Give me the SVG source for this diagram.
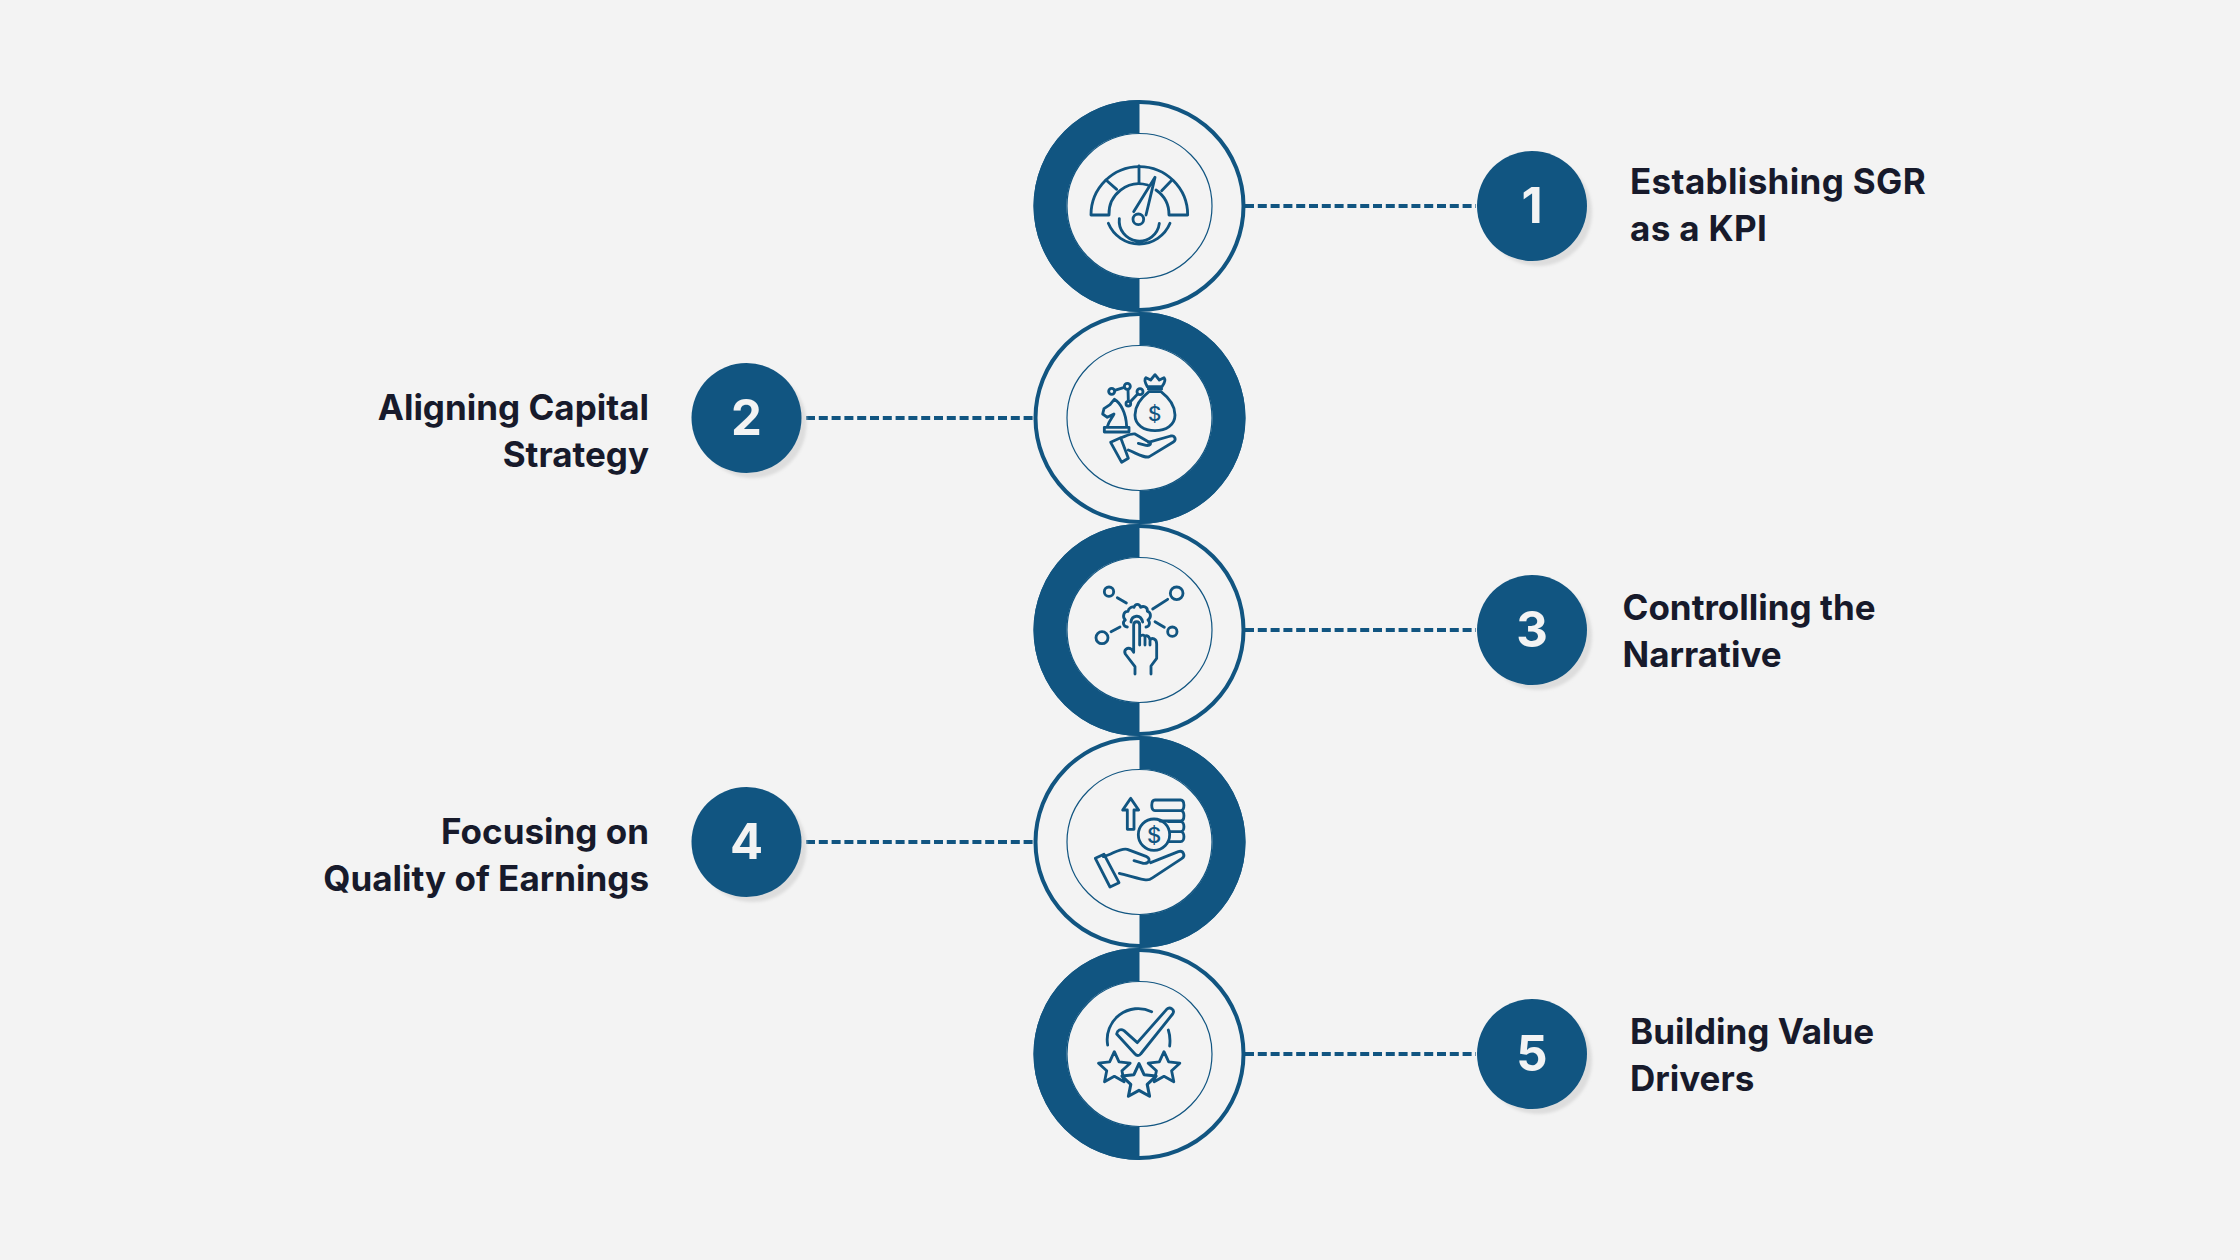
<svg xmlns="http://www.w3.org/2000/svg" width="2240" height="1260" viewBox="0 0 2240 1260">
<style>
.bg{fill:#f3f3f3}
.ring{fill:#f3f3f3;stroke:#115581;stroke-width:4}
.half{fill:#115581}
.thin{fill:#f3f3f3;stroke:#115581;stroke-width:1.200}
.badge{fill:#115581}
.shadow{fill:#dddddd}
.num{font-family:"Inter","Liberation Sans",sans-serif;font-weight:700;font-size:49px;fill:#f3f3f3;text-anchor:middle}
.lab{font-family:"Inter","Liberation Sans",sans-serif;font-weight:700;font-size:35px;fill:#171a2b}
.end{text-anchor:end}
.dash{stroke:#115581;stroke-width:4;stroke-dasharray:9 3.800;fill:none}
.ic{fill:none;stroke:#115581;stroke-width:8.500;stroke-linecap:round;stroke-linejoin:round}
.icf{fill:#f3f3f3;stroke:#115581;stroke-width:8.500;stroke-linecap:round;stroke-linejoin:round}
.icd{font-family:"Inter","Liberation Sans",sans-serif;font-weight:500;fill:#115581;text-anchor:middle}
</style>
<defs>
<filter id="blur" x="-20%" y="-20%" width="140%" height="140%"><feGaussianBlur stdDeviation="1.500"/></filter>
<path id="star" d="M0-50 14.100-19.400 47.500-15.500 22.800 7.400 29.400 40.500 0 24-29.400 40.500-22.800 7.400-47.500-15.500-14.100-19.400Z"/>
</defs>
<rect class="bg" width="2240" height="1260"/>
<g id="connectors">
<path class="dash" d="M1245 206H1476"/>
<path class="dash" d="M806 418H1033"/>
<path class="dash" d="M1245 630H1476"/>
<path class="dash" d="M806 842H1033"/>
<path class="dash" d="M1245 1054H1476"/>
</g>
<g id="node-1">
<circle class="ring" cx="1139.500" cy="206" r="104"/>
<circle class="thin" cx="1139.500" cy="206" r="72.500"/>
<path class="half" d="M1139.500 100A106 106 0 0 0 1139.500 312V279A73 73 0 0 1 1139.500 133Z"/>
<g transform="translate(1020 90) scale(.33333)" class="ic">
<path d="M383 285A90 90 0 0 0 267 375H213A145 145 0 0 1 503 375H447A90 90 0 0 0 408 300"/>
<path d="M357 228V278M258 270 290 298M425 302 456 270"/>
<path d="M405 262 341 365M405 262 378 375"/>
<circle cx="355" cy="388" r="16"/>
<path d="M298 386A60 60 0 0 0 418 400M265 400A100 100 0 0 0 450 400"/>
</g>
<circle class="shadow" cx="1538" cy="212" r="54" filter="url(#blur)"/>
<circle class="badge" cx="1532" cy="206" r="55"/>
<text class="num" x="1532" y="223">1</text>
<text class="lab" x="1630" y="194" letter-spacing=".35">Establishing SGR</text>
<text class="lab" x="1630" y="241" letter-spacing=".35">as a KPI</text>
</g>
<g id="node-2">
<circle class="ring" cx="1139.500" cy="418" r="104"/>
<circle class="thin" cx="1139.500" cy="418" r="72.500"/>
<path class="half" d="M1139.500 312A106 106 0 0 1 1139.500 524V491A73 73 0 0 0 1139.500 345Z"/>
<g transform="translate(1020 310) scale(.33333)" class="ic">
<path d="M385 237H425M388 237C398 232 412 232 422 237M382 230C375 218 372 208 378 203L392 210 405 194 418 210 432 203C438 210 432 222 426 230Z"/>
<path d="M387 245C365 262 345 285 345 315C345 345 372 362 405 362C438 362 465 345 465 315C465 285 445 262 423 245Z"/>
<path d="M253 352H327V366H253ZM262 350C268 330 278 322 282 312L262 322 248 312 252 296 270 284 283 268C300 278 318 305 320 350"/>
<circle cx="275" cy="244" r="9"/><circle cx="322" cy="229" r="9"/><circle cx="360" cy="245" r="9"/><circle cx="325" cy="281" r="7"/>
<path d="M284 241 313 232M324 238 325 273M331 275 353 252"/>
<path d="M272 397 302 383 325 445 305 457ZM298 385C315 380 330 370 345 372L385 395C398 400 390 408 378 406L355 400M385 397 452 378C465 375 470 390 460 396L388 440C375 445 360 435 325 420"/>
<text class="icd" x="404" y="334" font-size="62" stroke="none">$</text>
</g>
<circle class="shadow" cx="752.500" cy="424" r="54" filter="url(#blur)"/>
<circle class="badge" cx="746.500" cy="418" r="55"/>
<text class="num" x="746.500" y="435">2</text>
<text class="lab end" x="649" y="420">Aligning Capital</text>
<text class="lab end" x="649" y="467">Strategy</text>
</g>
<g id="node-3">
<circle class="ring" cx="1139.500" cy="630" r="104"/>
<circle class="thin" cx="1139.500" cy="630" r="72.500"/>
<path class="half" d="M1139.500 524A106 106 0 0 0 1139.500 736V703A73 73 0 0 1 1139.500 557Z"/>
<g transform="translate(1020 530) scale(.33333)" class="ic">
<circle cx="267" cy="185" r="14"/><circle cx="470" cy="190" r="19"/><circle cx="246" cy="323" r="18"/><circle cx="457" cy="305" r="14"/>
<path d="M292 203 319 219M398 237 443 208M273 305 300 291M405 275 433 292"/>
<path d="M322 291C310 290 306 276 316 270C306 260 311 243 324 244C326 232 338 229 342 232C346 220 358 220 362 232C370 226 384 232 382 244C394 246 394 264 384 270C392 278 388 290 378 291"/>
<path d="M333 276C335 256 362 250 368 276"/>
<path d="M345 432V410L316 372C310 360 322 350 335 358L341 367V285C341 272 359 272 359 285V345M375 345V320C375 315 388 315 390 330V345M359 320C365 312 375 315 375 322M390 330C395 322 410 325 410 342V385L393 408V432"/>
</g>
<circle class="shadow" cx="1538" cy="636" r="54" filter="url(#blur)"/>
<circle class="badge" cx="1532" cy="630" r="55"/>
<text class="num" x="1532" y="647">3</text>
<text class="lab" x="1622.500" y="620">Controlling the</text>
<text class="lab" x="1622.500" y="667">Narrative</text>
</g>
<g id="node-4">
<circle class="ring" cx="1139.500" cy="842" r="104"/>
<circle class="thin" cx="1139.500" cy="842" r="72.500"/>
<path class="half" d="M1139.500 736A106 106 0 0 1 1139.500 948V915A73 73 0 0 0 1139.500 769Z"/>
<g transform="translate(1020 740) scale(.33333)" class="ic">
<path d="M332 175 308 210H322V268H342V210H356Z"/>
<path d="M405 180H482C495 180 495 212 482 212H405C392 212 392 180 405 180ZM405 212H482C495 212 495 243 482 243H420M445 245H482C495 245 495 275 482 275H450M450 275H482C495 275 495 305 482 305H445"/>
<circle cx="402" cy="284" r="47"/>
<path d="M226 355 252 343 297 428 270 441ZM250 350C275 345 300 322 322 328L380 350C395 358 385 372 370 370L342 362M392 368 475 335C490 330 498 348 485 356L395 415C385 425 370 420 298 400"/>
<text class="icd" x="402" y="308" font-size="66" stroke="none">$</text>
</g>
<circle class="shadow" cx="752.500" cy="848" r="54" filter="url(#blur)"/>
<circle class="badge" cx="746.500" cy="842" r="55"/>
<text class="num" x="746.500" y="859">4</text>
<text class="lab end" x="649" y="844">Focusing on</text>
<text class="lab end" x="649" y="891">Quality of Earnings</text>
</g>
<g id="node-5">
<circle class="ring" cx="1139.500" cy="1054" r="104"/>
<circle class="thin" cx="1139.500" cy="1054" r="72.500"/>
<path class="half" d="M1139.500 948A106 106 0 0 0 1139.500 1160V1127A73 73 0 0 1 1139.500 981Z"/>
<g transform="translate(1020 950) scale(.33333)" class="ic">
<path d="M263 285A93 93 0 0 1 395 185M445 240C450 255 451 272 449 288"/>
<path d="M290 252C292 240 302 235 312 242L352 278 440 178C450 168 466 180 458 192L362 312C358 318 350 318 345 312Z"/>
<use href="#star" transform="translate(283 355)"/>
<use href="#star" transform="translate(432 355)"/>
<use href="#star" class="icf" transform="translate(357 395) scale(1.080)"/>
</g>
<circle class="shadow" cx="1538" cy="1060" r="54" filter="url(#blur)"/>
<circle class="badge" cx="1532" cy="1054" r="55"/>
<text class="num" x="1532" y="1071">5</text>
<text class="lab" x="1630" y="1044">Building Value</text>
<text class="lab" x="1630" y="1091">Drivers</text>
</g>
</svg>
